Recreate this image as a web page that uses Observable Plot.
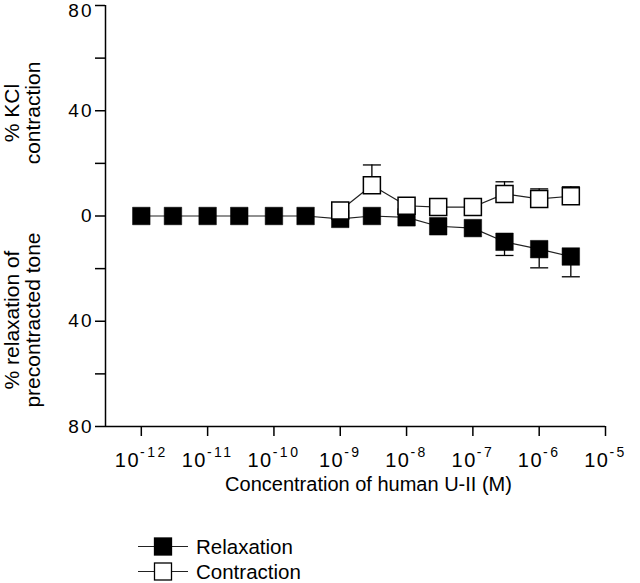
<!DOCTYPE html>
<html>
<head>
<meta charset="utf-8">
<script src="https://cdn.jsdelivr.net/npm/d3@7"></script>
<script src="https://cdn.jsdelivr.net/npm/@observablehq/plot@0.6"></script>
<style>
html, body { margin: 0; padding: 0; background: #fff; }
#wrap { position: relative; width: 640px; height: 583px; font-family: "Liberation Sans", Arial, Helvetica, sans-serif; }
#wrap > svg { display: block; }
#legend { position: absolute; left: 0; top: 505px; }
</style>
</head>
<body>
<div id="wrap"></div>
<script>
// ---- data ----
const relaxConc = [1e-12, 3e-12, 1e-11, 3e-11, 1e-10, 3e-10, 1e-9, 3e-9, 1e-8, 3e-8, 1e-7, 3e-7, 1e-6, 3e-6];
const relaxValue = [0, 0, 0, 0, 0, 0, -1.1, 0, -0.5, -3.9, -4.6, -9.8, -12.6, -15.4];
const relaxError = [0, 0, 0, 0, 0, 0, 0, 0, 0, 0, 0, 5.2, 7.1, 7.7];

const contrConc = [1e-9, 3e-9, 1e-8, 3e-8, 1e-7, 3e-7, 1e-6, 3e-6];
const contrValue = [2.1, 11.7, 3.9, 3.4, 3.4, 8.4, 6.5, 7.5];
const contrError = [0, 7.7, 0, 0, 0, 4.6, 3.8, 3.6];

const xTicks = [1e-12, 1e-11, 1e-10, 1e-9, 1e-8, 1e-7, 1e-6, 1e-5];
const xDomain = [Math.pow(10, -12.54), 1e-5];
const yTicks = [-80, -60, -40, -20, 0, 20, 40, 60, 80];
const yLabelled = [-80, -40, 0, 40];
const yTopLabel = [80];
const yDomain = [-80, 80];

const seriesNames = ["Relaxation", "Contraction"];
const xTitle = "Concentration of human U-II (M)";
const yTitleTop = "% KCl\ncontraction";
const yTitleBottom = "% relaxation of\nprecontracted tone";

// ---- build tables ----
const relax = relaxConc.map((c, i) => ({c, v: relaxValue[i], e: relaxError[i]}));
const contr = contrConc.map((c, i) => ({c, v: contrValue[i], e: contrError[i]}));

const FONT = '"Liberation Sans", Arial, Helvetica, sans-serif';
const capSymbol = { draw(ctx) { ctx.moveTo(-9, 0); ctx.lineTo(9, 0); } };

const chart = Plot.plot({
  width: 640,
  height: 505,
  marginLeft: 105,
  marginRight: 35,
  marginTop: 5,
  marginBottom: 79,
  style: {fontFamily: FONT, fontSize: "16px", color: "#000", background: "#fff", overflow: "visible"},
  x: {type: "log", domain: xDomain},
  y: {domain: yDomain},
  marks: [
    Plot.axisY({ticks: yTicks, tickSize: 10, tickPadding: 2, strokeWidth: 1.5, fontSize: 19,
      tickFormat: d => yLabelled.includes(d) ? String(Math.abs(d)) : "", label: null}),
    Plot.text(yTopLabel, {y: d => d, text: d => String(Math.abs(d)), frameAnchor: "left", textAnchor: "end",
      dx: -12, dy: 5, fontSize: 19}),
    Plot.axisX({ticks: xTicks, tickSize: 10, tickPadding: 16, strokeWidth: 1.5, fontSize: 20,
      tickFormat: d => "10^" + Math.round(Math.log10(d)), label: null}),
    Plot.ruleX([xDomain[0]], {strokeWidth: 1.5, stroke: "#000"}),
    Plot.ruleY([yDomain[0]], {strokeWidth: 1.5, stroke: "#000"}),
    // relaxation
    Plot.line(relax, {x: "c", y: "v", stroke: "#222", strokeWidth: 1.2}),
    Plot.ruleX(relax.filter(d => d.e > 0), {x: "c", y1: "v", y2: d => d.v - d.e, stroke: "#000", strokeWidth: 1.3}),
    Plot.dot(relax.filter(d => d.e > 0), {x: "c", y: d => d.v - d.e, symbol: capSymbol, stroke: "#000", strokeWidth: 1.3, r: 9}),
    Plot.dot(relax, {x: "c", y: "v", symbol: "square", r: 9.9, fill: "#000", stroke: "#000", strokeWidth: 0.5}),
    // contraction
    Plot.line(contr, {x: "c", y: "v", stroke: "#222", strokeWidth: 1.2}),
    Plot.ruleX(contr.filter(d => d.e > 0), {x: "c", y1: "v", y2: d => d.v + d.e, stroke: "#000", strokeWidth: 1.3}),
    Plot.dot(contr.filter(d => d.e > 0), {x: "c", y: d => d.v + d.e, symbol: capSymbol, stroke: "#000", strokeWidth: 1.3, r: 9}),
    Plot.dot(contr, {x: "c", y: "v", symbol: "square", r: 9.6, fill: "#fff", stroke: "#000", strokeWidth: 1.5}),
    // titles
    Plot.text([xTitle], {text: d => d, frameAnchor: "bottom", textAnchor: "middle", lineAnchor: "middle", dx: 13, dy: 58, fontSize: 20}),
    Plot.text([yTitleTop], {text: d => d, frameAnchor: "left", textAnchor: "middle", lineAnchor: "middle", rotate: -90, dx: -83, dy: -103, fontSize: 21, lineHeight: 1.02}),
    Plot.text([yTitleBottom], {text: d => d, frameAnchor: "left", textAnchor: "middle", lineAnchor: "middle", rotate: -90, dx: -83, dy: 104, fontSize: 21, lineHeight: 1.02})
  ]
});

// superscript exponents on x tick labels
const NS = "http://www.w3.org/2000/svg";
chart.querySelectorAll('g[aria-label="x-axis tick label"] text').forEach(t => {
  const [b, e] = t.textContent.split("^");
  t.textContent = "";
  const s1 = document.createElementNS(NS, "tspan");
  s1.textContent = b;
  s1.setAttribute("letter-spacing", "1.5");
  const s2 = document.createElementNS(NS, "tspan");
  s2.textContent = e;
  s2.setAttribute("dy", "-10");
  s2.setAttribute("font-size", "14");
  s2.setAttribute("letter-spacing", "2.5");
  t.append(s1, s2);
});
chart.querySelectorAll('g[aria-label="y-axis tick label"] text, g[aria-label="text"] text').forEach(t => {
  if (/^\d+$/.test(t.textContent)) t.setAttribute("letter-spacing", "2");
});

const wrap = document.getElementById("wrap");
wrap.appendChild(chart);

// legend
const legend = document.createElementNS(NS, "svg");
legend.setAttribute("id", "legend");
legend.setAttribute("width", "640");
legend.setAttribute("height", "78");
legend.setAttribute("font-family", FONT);
seriesNames.forEach((name, i) => {
  const cy = 41.5 + i * 25;
  const g = document.createElementNS(NS, "g");
  const ln = document.createElementNS(NS, "line");
  ln.setAttribute("x1", 138); ln.setAttribute("x2", 188);
  ln.setAttribute("y1", cy); ln.setAttribute("y2", cy);
  ln.setAttribute("stroke", "#222"); ln.setAttribute("stroke-width", "1.2");
  const rc = document.createElementNS(NS, "rect");
  rc.setAttribute("x", 154.5); rc.setAttribute("y", cy - 8.5);
  rc.setAttribute("width", 17); rc.setAttribute("height", 17);
  rc.setAttribute("fill", i === 0 ? "#000" : "#fff");
  rc.setAttribute("stroke", "#000"); rc.setAttribute("stroke-width", "1.3");
  const tx = document.createElementNS(NS, "text");
  tx.setAttribute("x", 196); tx.setAttribute("y", cy);
  tx.setAttribute("dy", "0.35em");
  tx.setAttribute("font-size", "20.5");
  tx.textContent = name;
  g.append(ln, rc, tx);
  legend.appendChild(g);
});
wrap.appendChild(legend);
</script>
</body>
</html>
